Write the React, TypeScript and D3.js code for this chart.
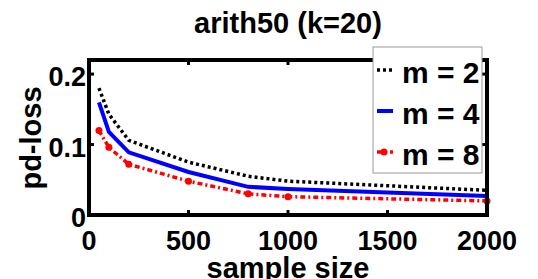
import React, { useRef, useEffect } from "react";
import * as d3 from "d3";

const sampleSizes = [50, 100, 200, 500, 800, 1000, 2000];
const lossM2 = [0.18, 0.143, 0.106, 0.075, 0.055, 0.048, 0.035];
const lossM4 = [0.16, 0.118, 0.089, 0.061, 0.04, 0.037, 0.027];
const lossM8 = [0.12, 0.096, 0.072, 0.048, 0.03, 0.026, 0.02];
const xTicks = [0, 500, 1000, 1500, 2000];
const yTicks = [0, 0.1, 0.2];
const seriesNames = ["m = 2", "m = 4", "m = 8"];

const FONT = "'Liberation Sans', Arial, Helvetica, sans-serif";

const App: React.FC = () => {
  const ref = useRef<SVGSVGElement | null>(null);

  useEffect(() => {
    const svg = d3.select(ref.current);
    svg.selectAll("*").remove();

    const W = 538;
    const H = 279;
    const left = 89;
    const right = 487;
    const top = 60;
    const bottom = 215;

    const x = d3.scaleLinear().domain([0, 2000]).range([left, right]);
    const y = d3.scaleLinear().domain([0, 0.22]).range([bottom, top]);

    svg.attr("width", W).attr("height", H);
    svg.append("rect").attr("width", W).attr("height", H).attr("fill", "#fff");

    // series styles: black dotted, blue solid, red dash-dot with dots
    const series = [
      { name: seriesNames[0], values: lossM2, color: "#000", width: 3.5, dash: "3,3", marker: false },
      { name: seriesNames[1], values: lossM4, color: "#0000ff", width: 4, dash: null, marker: false },
      { name: seriesNames[2], values: lossM8, color: "#ff0000", width: 3.5, dash: "5,3,2,3", marker: true },
    ];

    const line = d3
      .line<number>()
      .x((_, i) => x(sampleSizes[i]))
      .y((d) => y(d));

    series.forEach((s) => {
      svg
        .append("path")
        .datum(s.values)
        .attr("fill", "none")
        .attr("stroke", s.color)
        .attr("stroke-width", s.width)
        .attr("stroke-dasharray", s.dash)
        .attr("d", line);
      if (s.marker) {
        svg
          .append("g")
          .selectAll("circle")
          .data(s.values)
          .join("circle")
          .attr("cx", (_, i) => x(sampleSizes[i]))
          .attr("cy", (d) => y(d))
          .attr("r", 3.5)
          .attr("fill", s.color);
      }
    });

    // frame
    svg
      .append("rect")
      .attr("x", left)
      .attr("y", top)
      .attr("width", right - left)
      .attr("height", bottom - top)
      .attr("fill", "none")
      .attr("stroke", "#000")
      .attr("stroke-width", 4);

    // inward ticks on all sides
    const tickLen = 5;
    xTicks.forEach((t) => {
      svg.append("line").attr("x1", x(t)).attr("x2", x(t)).attr("y1", bottom).attr("y2", bottom - tickLen).attr("stroke", "#000").attr("stroke-width", 3);
      svg.append("line").attr("x1", x(t)).attr("x2", x(t)).attr("y1", top).attr("y2", top + tickLen).attr("stroke", "#000").attr("stroke-width", 3);
    });
    yTicks.forEach((t) => {
      svg.append("line").attr("x1", left).attr("x2", left + tickLen).attr("y1", y(t)).attr("y2", y(t)).attr("stroke", "#000").attr("stroke-width", 3);
      svg.append("line").attr("x1", right).attr("x2", right - tickLen).attr("y1", y(t)).attr("y2", y(t)).attr("stroke", "#000").attr("stroke-width", 3);
    });

    // tick labels
    svg
      .append("g")
      .selectAll("text")
      .data(xTicks)
      .join("text")
      .attr("x", (d) => x(d))
      .attr("y", 250)
      .attr("text-anchor", "middle")
      .style("font", `bold 27px ${FONT}`)
      .text((d) => String(d));

    svg
      .append("g")
      .selectAll("text")
      .data(yTicks)
      .join("text")
      .attr("x", left - 3)
      .attr("y", (d) => y(d) + 12)
      .attr("text-anchor", "end")
      .style("font", `bold 27px ${FONT}`)
      .text((d) => (d === 0 ? "0" : String(d)));

    // title and axis labels
    svg
      .append("text")
      .attr("x", (left + right) / 2)
      .attr("y", 33)
      .attr("text-anchor", "middle")
      .style("font", `bold 29px ${FONT}`)
      .text("arith50 (k=20)");

    svg
      .append("text")
      .attr("x", (left + right) / 2)
      .attr("y", 278)
      .attr("text-anchor", "middle")
      .style("font", `bold 29px ${FONT}`)
      .text("sample size");

    svg
      .append("text")
      .attr("transform", `translate(41,138) rotate(-90)`)
      .attr("text-anchor", "middle")
      .style("font", `bold 29px ${FONT}`)
      .text("pd-loss");

    // legend
    const lg = svg.append("g");
    lg.append("rect")
      .attr("x", 373)
      .attr("y", 47)
      .attr("width", 109)
      .attr("height", 126)
      .attr("fill", "#fff")
      .attr("stroke", "#999")
      .attr("stroke-width", 1);

    series.forEach((s, i) => {
      const base = 83 + i * 41;
      lg.append("line")
        .attr("x1", 377)
        .attr("x2", 393)
        .attr("y1", base - 13)
        .attr("y2", base - 13)
        .attr("stroke", s.color)
        .attr("stroke-width", s.width)
        .attr("stroke-dasharray", s.dash);
      if (s.marker) {
        lg.append("circle").attr("cx", 384).attr("cy", base - 13).attr("r", 3.5).attr("fill", s.color);
      }
      lg.append("text")
        .attr("x", 402)
        .attr("y", base)
        .style("font", `bold 30px ${FONT}`)
        .text(s.name);
    });
  }, []);

  return <svg ref={ref} style={{ position: "absolute", left: 0, top: 0 }} />;
};

export default App;
